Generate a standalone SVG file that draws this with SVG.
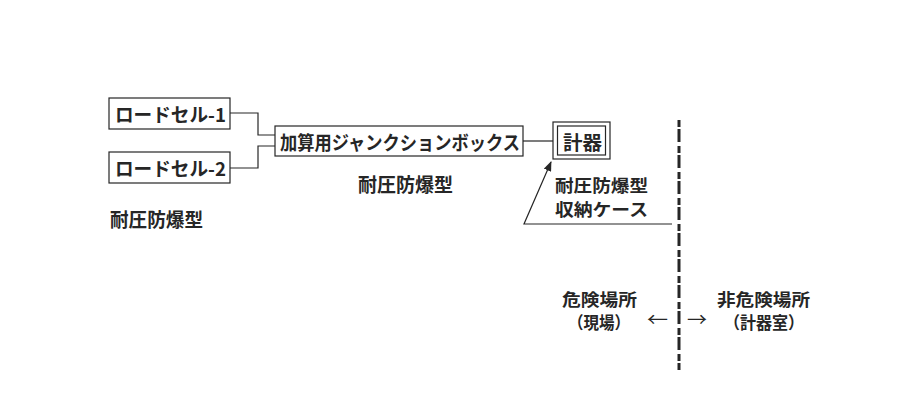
<svg xmlns="http://www.w3.org/2000/svg" width="906" height="410" viewBox="0 0 906 410">
<style>
text{font-family:"Noto Sans CJK JP","Liberation Sans",sans-serif;font-weight:700;font-size:19px;fill:#262626}
.sm{font-size:17px}
.box{fill:#fff;stroke:#262626;stroke-width:1.2}
.ln{fill:none;stroke:#262626;stroke-width:1.2}
</style>
<defs>
<marker id="ah" markerWidth="10" markerHeight="8" refX="9" refY="4" orient="auto" markerUnits="userSpaceOnUse">
<path d="M0,0 L10,4 L0,8 z" fill="#262626"/>
</marker>
</defs>
<rect width="906" height="410" fill="#fff"/>
<g id="connectors">
<polyline class="ln" points="230,113 258,113 258,135 275,135"/>
<polyline class="ln" points="230,168 258,168 258,146 275,146"/>
<line class="ln" x1="523" y1="141" x2="553" y2="141"/>
<polyline class="ln" points="672,224 524,224 551,162" marker-end="url(#ah)"/>
<line x1="679" y1="120" x2="679" y2="370" stroke="#262626" stroke-width="3" stroke-dasharray="7 2 13 4"/>
</g>
<g id="loadcell1">
<rect class="box" x="109" y="98" width="121" height="31"/>
<text x="115" y="122" textLength="111" lengthAdjust="spacingAndGlyphs">ロードセル-1</text>
</g>
<g id="loadcell2">
<rect class="box" x="109" y="152" width="121" height="31"/>
<text x="115" y="176" textLength="111" lengthAdjust="spacingAndGlyphs">ロードセル-2</text>
</g>
<g id="junction">
<rect class="box" x="275" y="126" width="248" height="30"/>
<text x="280" y="150" textLength="240" lengthAdjust="spacingAndGlyphs">加算用ジャンクションボックス</text>
</g>
<g id="instrument">
<rect class="box" x="553" y="122" width="57" height="37" stroke-width="2"/>
<rect class="box" x="557.5" y="126" width="48" height="29"/>
<text x="563" y="150" textLength="39" lengthAdjust="spacingAndGlyphs">計器</text>
</g>
<g id="labels">
<text x="358" y="192" textLength="95" lengthAdjust="spacingAndGlyphs">耐圧防爆型</text>
<text x="110" y="227" textLength="93" lengthAdjust="spacingAndGlyphs">耐圧防爆型</text>
<text class="sm" x="555" y="192" textLength="93" lengthAdjust="spacingAndGlyphs">耐圧防爆型</text>
<text class="sm" x="555" y="216" textLength="93" lengthAdjust="spacingAndGlyphs">収納ケース</text>
<text class="sm" x="562" y="306" textLength="75" lengthAdjust="spacingAndGlyphs">危険場所</text>
<text class="sm" x="568" y="329" textLength="62" lengthAdjust="spacingAndGlyphs">（現場）</text>
<text x="647" y="327" style="font-weight:400" textLength="21" lengthAdjust="spacingAndGlyphs">←</text>
<text x="687" y="327" style="font-weight:400" textLength="20" lengthAdjust="spacingAndGlyphs">→</text>
<text class="sm" x="717" y="306" textLength="93" lengthAdjust="spacingAndGlyphs">非危険場所</text>
<text class="sm" x="724" y="329" textLength="80" lengthAdjust="spacingAndGlyphs">（計器室）</text>
</g>
</svg>
